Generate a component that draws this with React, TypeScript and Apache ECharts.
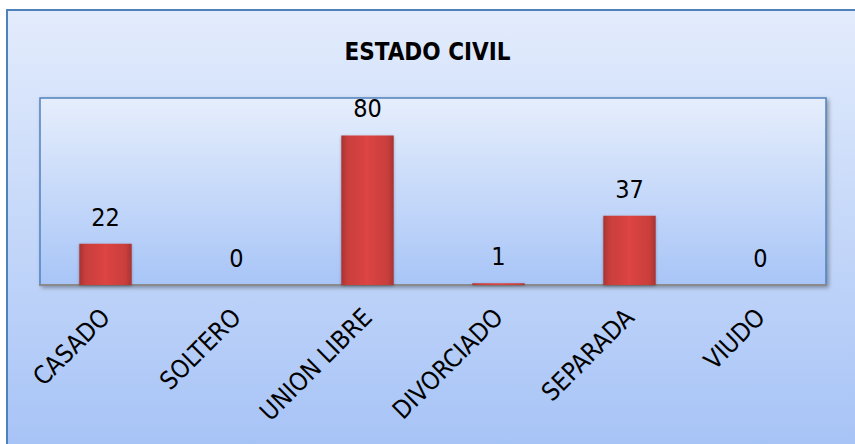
import React, { useEffect, useRef } from "react";
import * as echarts from "echarts";

const categories = ["CASADO", "SOLTERO", "UNION LIBRE", "DIVORCIADO", "SEPARADA", "VIUDO"];
const values = [22, 0, 80, 1, 37, 0];
const chartTitle = "ESTADO CIVIL";

const FONT = "'Liberation Sans Narrow', 'DejaVu Sans Condensed', 'Liberation Sans', sans-serif";

export default function App() {
  const ref = useRef<HTMLDivElement>(null);
  useEffect(() => {
    document.body.style.margin = "0";
    const chart = echarts.init(ref.current!, null, { renderer: "svg" });
    chart.setOption({
      animation: false,
      backgroundColor: "#ffffff",
      graphic: [
        {
          type: "rect",
          z: -10,
          shape: { x: 7, y: 10, width: 860, height: 450 },
          style: {
            fill: new echarts.graphic.LinearGradient(0, 0, 0, 1, [
              { offset: 0, color: "#E3ECFC" },
              { offset: 1, color: "#A5C2F6" },
            ]),
            stroke: "#4F81BD",
            lineWidth: 2,
          },
        },
      ],
      title: {
        text: chartTitle,
        left: "center",
        top: 35,
        textStyle: { fontFamily: FONT, fontSize: 24, fontWeight: "bold", color: "#000" },
      },
      grid: {
        left: 40,
        right: 29,
        top: 98,
        bottom: 159,
        show: true,
        backgroundColor: new echarts.graphic.LinearGradient(0, 0, 0, 1, [
          { offset: 0, color: "#E6EEFC" },
          { offset: 1, color: "#A8C5F7" },
        ]),
        borderColor: "#4F81BD",
        borderWidth: 1.5,
        shadowColor: "rgba(0,0,0,0.35)",
        shadowBlur: 4,
        shadowOffsetX: 2,
        shadowOffsetY: 2,
      },
      xAxis: {
        type: "category",
        data: categories,
        axisLine: { show: true, lineStyle: { color: "#8A8A8A", width: 2 } },
        axisTick: { show: false },
        axisLabel: {
          rotate: 45,
          margin: 28,
          interval: 0,
          fontFamily: FONT,
          fontSize: 25,
          color: "#000",
        },
      },
      yAxis: {
        type: "value",
        min: 0,
        max: 100,
        show: false,
        splitLine: { show: false },
      },
      series: [
        {
          type: "bar",
          data: values,
          barWidth: "40%",
          itemStyle: {
            color: new echarts.graphic.LinearGradient(0, 0, 1, 0, [
              { offset: 0, color: "#A83432" },
              { offset: 0.12, color: "#C93E3C" },
              { offset: 0.5, color: "#DC4443" },
              { offset: 0.88, color: "#C93E3C" },
              { offset: 1, color: "#A83432" },
            ]),
            shadowColor: "rgba(0,0,0,0.3)",
            shadowBlur: 3,
            shadowOffsetY: 1,
          },
          label: {
            show: true,
            position: "top",
            distance: 14,
            fontFamily: FONT,
            fontSize: 25,
            color: "#000",
          },
        },
      ],
    });
    return () => chart.dispose();
  }, []);
  return <div ref={ref} style={{ width: 855, height: 444 }} />;
}
